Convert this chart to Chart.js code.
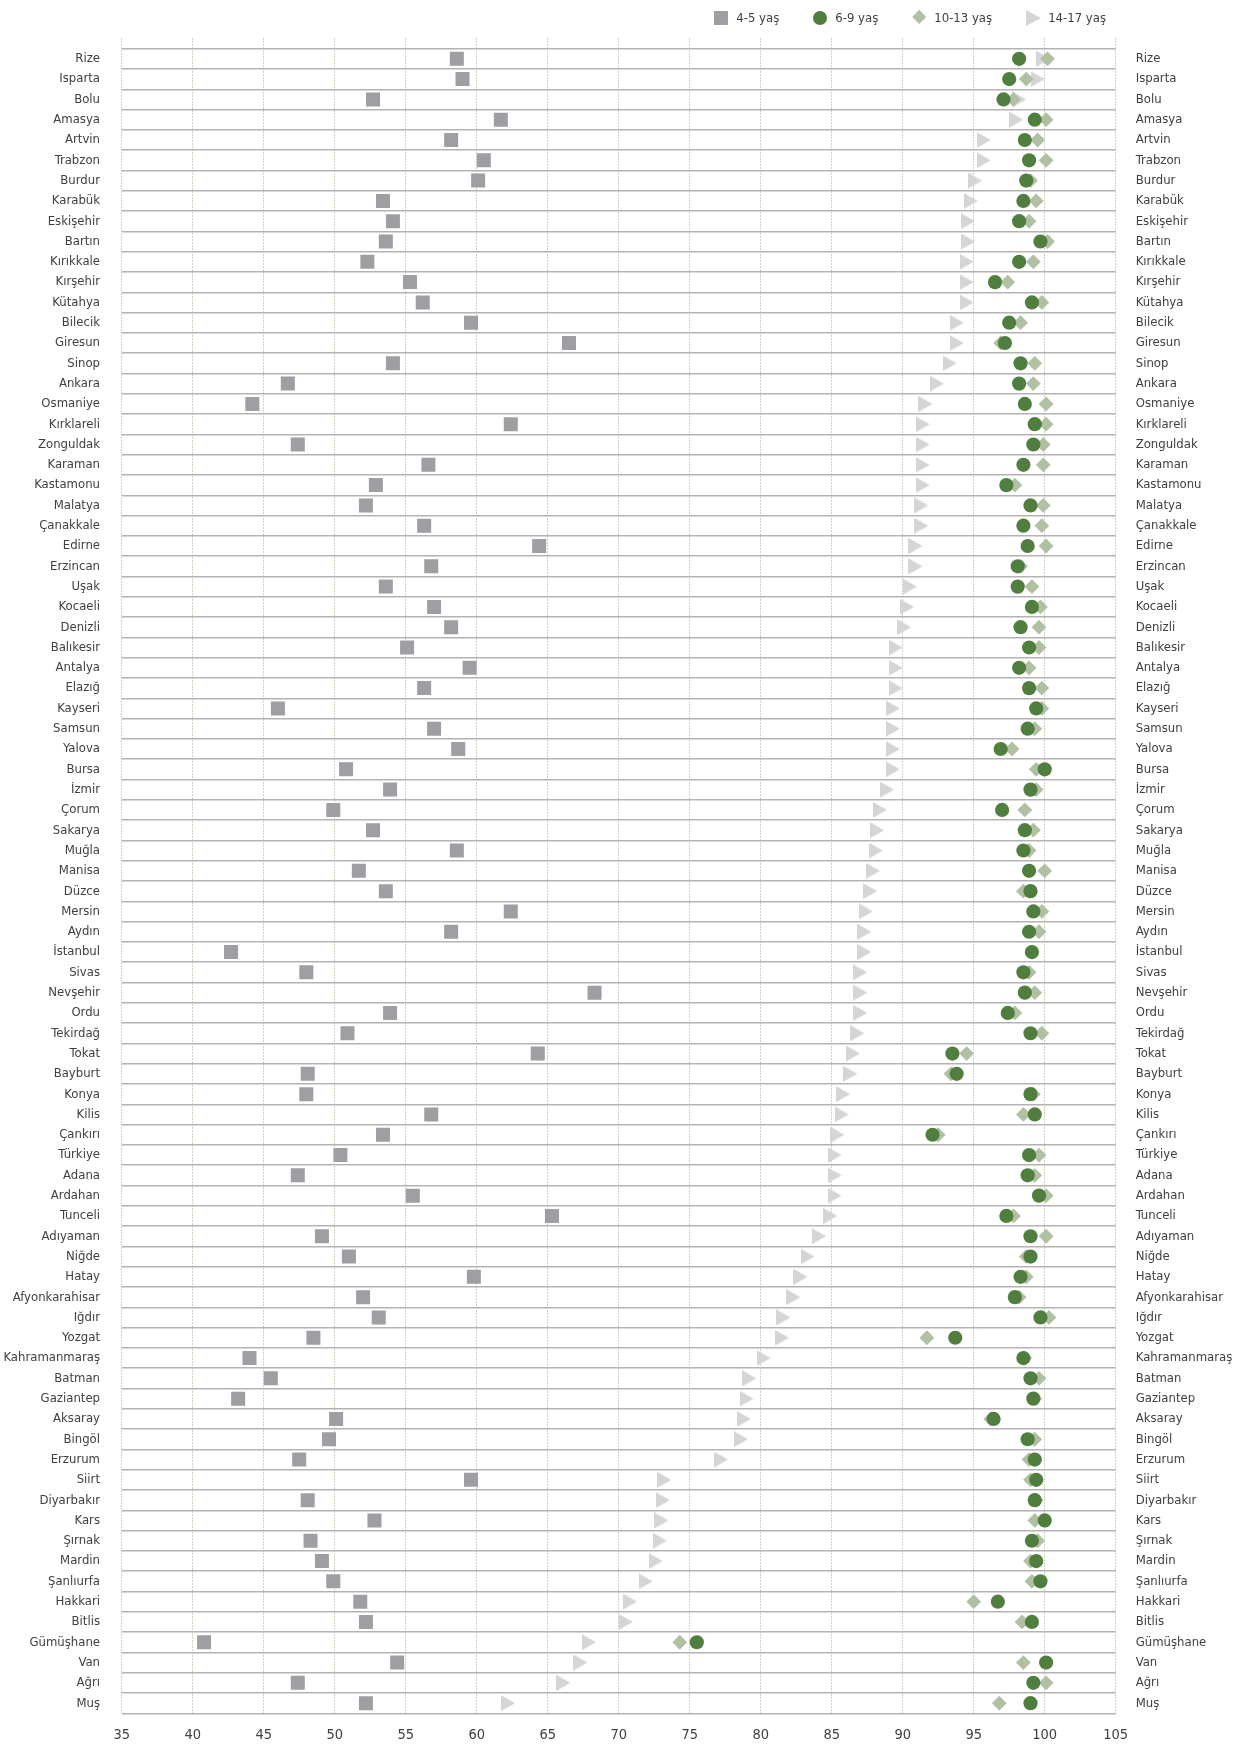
<!DOCTYPE html>
<html>
<head>
<meta charset="utf-8">
<script src="https://cdn.jsdelivr.net/npm/chart.js@4.4.0/dist/chart.umd.min.js"></script>
<style>
html,body{margin:0;padding:0;background:#ffffff;}
#wrap{width:1236px;height:1748px;position:relative;}
#legend{position:absolute;top:9px;right:130px;height:17px;display:flex;align-items:center;
  font-family:'Liberation Sans Narrow','Arial Narrow','DejaVu Sans Condensed','Open Sans',sans-serif;
  font-size:13px;color:#404040;white-space:nowrap;}
#legend .item{display:flex;align-items:center;margin-left:33px;}
#legend .item:first-child{margin-left:0;}
#legend .mk{position:relative;width:16px;height:17px;margin-right:7px;flex:none;}
#legend .mk span{position:absolute;display:block;}
</style>
</head>
<body>
<div id="wrap"><canvas id="c" width="1236" height="1748"></canvas><div id="legend"></div></div>
<script>
const provinces = ['Rize','Isparta','Bolu','Amasya','Artvin','Trabzon','Burdur','Karabük','Eskişehir','Bartın','Kırıkkale','Kırşehir','Kütahya','Bilecik','Giresun','Sinop','Ankara','Osmaniye','Kırklareli','Zonguldak','Karaman','Kastamonu','Malatya','Çanakkale','Edirne','Erzincan','Uşak','Kocaeli','Denizli','Balıkesir','Antalya','Elazığ','Kayseri','Samsun','Yalova','Bursa','İzmir','Çorum','Sakarya','Muğla','Manisa','Düzce','Mersin','Aydın','İstanbul','Sivas','Nevşehir','Ordu','Tekirdağ','Tokat','Bayburt','Konya','Kilis','Çankırı','Türkiye','Adana','Ardahan','Tunceli','Adıyaman','Niğde','Hatay','Afyonkarahisar','Iğdır','Yozgat','Kahramanmaraş','Batman','Gaziantep','Aksaray','Bingöl','Erzurum','Siirt','Diyarbakır','Kars','Şırnak','Mardin','Şanlıurfa','Hakkari','Bitlis','Gümüşhane','Van','Ağrı','Muş'];

const seriesNames = ['4-5 yaş','6-9 yaş','10-13 yaş','14-17 yaş'];

const age45 = [58.6,59.0,52.7,61.7,58.2,60.5,60.1,53.4,54.1,53.6,52.3,55.3,56.2,59.6,66.5,54.1,46.7,44.2,62.4,47.4,56.6,52.9,52.2,56.3,64.4,56.8,53.6,57.0,58.2,55.1,59.5,56.3,46.0,57.0,58.7,50.8,53.9,49.9,52.7,58.6,51.7,53.6,62.4,58.2,42.7,48.0,68.3,53.9,50.9,64.3,48.1,48.0,56.8,53.4,50.4,47.4,55.5,65.3,49.1,51.0,59.8,52.0,53.1,48.5,44.0,45.5,43.2,50.1,49.6,47.5,59.6,48.1,52.8,48.3,49.1,49.9,51.8,52.2,40.8,54.4,47.4,52.2];

const age69 = [98.2,97.5,97.1,99.3,98.6,98.9,98.7,98.5,98.2,99.7,98.2,96.5,99.1,97.5,97.2,98.3,98.2,98.6,99.3,99.2,98.5,97.3,99.0,98.5,98.8,98.1,98.1,99.1,98.3,98.9,98.2,98.9,99.4,98.8,96.9,100.0,99.0,97.0,98.6,98.5,98.9,99.0,99.2,98.9,99.1,98.5,98.6,97.4,99.0,93.5,93.8,99.0,99.3,92.1,98.9,98.8,99.6,97.3,99.0,99.0,98.3,97.9,99.7,93.7,98.5,99.0,99.2,96.4,98.8,99.3,99.4,99.3,100.0,99.1,99.4,99.7,96.7,99.1,75.5,100.1,99.2,99.0];

const age1013 = [100.2,98.7,97.8,100.1,99.5,100.1,99.0,99.4,98.9,100.2,99.2,97.4,99.8,98.3,96.9,99.3,99.2,100.1,100.1,99.9,99.9,97.9,99.9,99.8,100.1,98.3,99.1,99.7,99.6,99.6,98.9,99.8,99.8,99.3,97.7,99.4,99.4,98.6,99.2,98.9,100.0,98.5,99.8,99.6,99.1,98.9,99.3,97.9,99.8,94.5,93.4,99.2,98.5,92.5,99.6,99.3,100.1,97.8,100.1,98.7,98.7,98.2,100.3,91.7,98.6,99.6,99.3,96.2,99.3,98.9,99.0,99.4,99.3,99.5,99.0,99.1,95.0,98.4,74.3,98.5,100.1,96.8];

const age1417 = [99.9,99.5,98.2,98.0,95.7,95.7,95.1,94.8,94.6,94.6,94.5,94.5,94.5,93.8,93.8,93.3,92.4,91.6,91.4,91.4,91.4,91.4,91.3,91.3,90.9,90.9,90.5,90.3,90.1,89.5,89.5,89.5,89.3,89.3,89.3,89.3,88.9,88.4,88.2,88.1,87.9,87.7,87.4,87.3,87.3,87.0,87.0,87.0,86.8,86.5,86.3,85.8,85.7,85.4,85.2,85.2,85.2,84.9,84.1,83.3,82.8,82.3,81.6,81.5,80.2,79.2,79.0,78.8,78.6,77.2,73.2,73.1,73.0,72.9,72.6,71.9,70.8,70.5,67.9,67.3,66.1,62.2];

const xTicks = [35,40,45,50,55,60,65,70,75,80,85,90,95,100,105];

const colors = ['#9e9ea3', '#4f7e3e', '#b1c0a3', '#d5d5d7'];

// helpers built from the arrays above
const toPoints = vals => vals.map((v, i) => ({x: v, y: i}));
const leftTicks = [];
for (let i = -0.5; i <= provinces.length - 0.5; i += 0.5) leftTicks.push(i);
const rightTicks = provinces.map((p, i) => i);

// right-pointing triangle marker (centred on its bounding box)
function makeTriangle(color, w, h) {
  const cv = document.createElement('canvas');
  cv.width = w; cv.height = h;
  const g = cv.getContext('2d');
  g.fillStyle = color;
  g.beginPath(); g.moveTo(0, 0); g.lineTo(w, h / 2); g.lineTo(0, h); g.closePath(); g.fill();
  return cv;
}
const triangleMarker = makeTriangle(colors[3], 14, 16);

const FONT = "'Liberation Sans Narrow', 'Arial Narrow', 'DejaVu Sans Condensed', 'Open Sans', sans-serif";
Chart.defaults.font.family = FONT;
Chart.defaults.font.size = 13;
Chart.defaults.color = '#404040';

const common = {borderWidth: 0, pointBorderWidth: 0, pointHoverBorderWidth: 0};

// HTML legend built from the chart's own legend items
const htmlLegend = {
  id: 'htmlLegend',
  afterUpdate(chart) {
    const box = document.getElementById('legend');
    box.innerHTML = '';
    const items = Chart.defaults.plugins.legend.labels.generateLabels(chart);
    items.forEach(it => {
      const ds = chart.data.datasets[it.datasetIndex];
      const col = ds.backgroundColor;
      const item = document.createElement('div');
      item.className = 'item';
      const mk = document.createElement('div');
      mk.className = 'mk';
      const s = document.createElement('span');
      const ps = ds.pointStyle;
      if (ps === 'rect') {
        Object.assign(s.style, {left: '1px', top: '1.5px', width: '14px', height: '14px', background: col});
      } else if (ps === 'circle') {
        Object.assign(s.style, {left: '1px', top: '1.5px', width: '14px', height: '14px', background: col, borderRadius: '50%'});
      } else if (ps === 'rectRot') {
        Object.assign(s.style, {left: '2.8px', top: '3.3px', width: '10.4px', height: '10.4px', background: col, transform: 'rotate(45deg)'});
      } else {
        Object.assign(s.style, {left: '1px', top: '0.5px', width: '0', height: '0',
          borderLeft: '15px solid ' + col, borderTop: '8px solid transparent', borderBottom: '8px solid transparent'});
      }
      mk.appendChild(s);
      const tx = document.createElement('span');
      tx.textContent = it.text;
      item.appendChild(mk);
      item.appendChild(tx);
      box.appendChild(item);
    });
  }
};

new Chart(document.getElementById('c'), {
  type: 'scatter',
  data: {
    datasets: [
      Object.assign({label: seriesNames[0], data: toPoints(age45), pointStyle: 'rect', pointRadius: 9.9, pointHoverRadius: 9.9,
        backgroundColor: colors[0], borderColor: colors[0]}, common),
      Object.assign({label: seriesNames[1], data: toPoints(age69), pointStyle: 'circle', pointRadius: 7.1, pointHoverRadius: 7.1,
        backgroundColor: colors[1], borderColor: colors[1]}, common),
      Object.assign({label: seriesNames[2], data: toPoints(age1013), pointStyle: 'rectRot', pointRadius: 7.4, pointHoverRadius: 7.4,
        backgroundColor: colors[2], borderColor: colors[2]}, common),
      Object.assign({label: seriesNames[3], data: toPoints(age1417), pointStyle: triangleMarker, pointRadius: 8, pointHoverRadius: 8,
        backgroundColor: colors[3], borderColor: colors[3]}, common)
    ]
  },
  plugins: [htmlLegend],
  options: {
    responsive: false,
    animation: false,
    events: [],
    layout: {padding: {top: 38.5, right: 0, bottom: 0, left: 0}},
    plugins: {
      tooltip: {enabled: false},
      legend: {display: false}
    },
    scales: {
      x: {
        type: 'linear',
        position: 'bottom',
        min: 35, max: 105,
        afterBuildTicks: axis => { axis.ticks = xTicks.map(v => ({value: v})); },
        afterFit: axis => { axis.height = 34.7; },
        ticks: {padding: 13, autoSkip: false, maxRotation: 0, font: {size: 14.5}, color: '#404040'},
        grid: {color: '#9ea383', lineWidth: 1, drawTicks: false},
        border: {display: false, dash: [1, 2]}
      },
      y: {
        type: 'linear',
        position: 'left',
        reverse: true,
        min: -1.0, max: provinces.length - 0.5,
        afterBuildTicks: axis => { axis.ticks = leftTicks.map(v => ({value: v})); },
        afterFit: axis => { axis.width = 121.7; },
        ticks: {
          autoSkip: false, padding: 21.7, font: {size: 13}, color: '#404040',
          callback: v => (Number.isInteger(v) ? provinces[v] : '')
        },
        grid: {
          drawTicks: false,
          lineWidth: 1.5,
          color: ctx => (ctx.tick && !Number.isInteger(ctx.tick.value) ? '#b3b3b3' : 'rgba(0,0,0,0)')
        },
        border: {display: false}
      },
      y2: {
        type: 'linear',
        position: 'right',
        reverse: true,
        min: -1.0, max: provinces.length - 0.5,
        afterBuildTicks: axis => { axis.ticks = rightTicks.map(v => ({value: v})); },
        afterFit: axis => { axis.width = 120.3; },
        ticks: {
          autoSkip: false, padding: 20, font: {size: 13}, color: '#404040',
          callback: v => provinces[v]
        },
        grid: {display: false, drawTicks: false},
        border: {display: false}
      }
    }
  }
});
</script>
</body>
</html>
